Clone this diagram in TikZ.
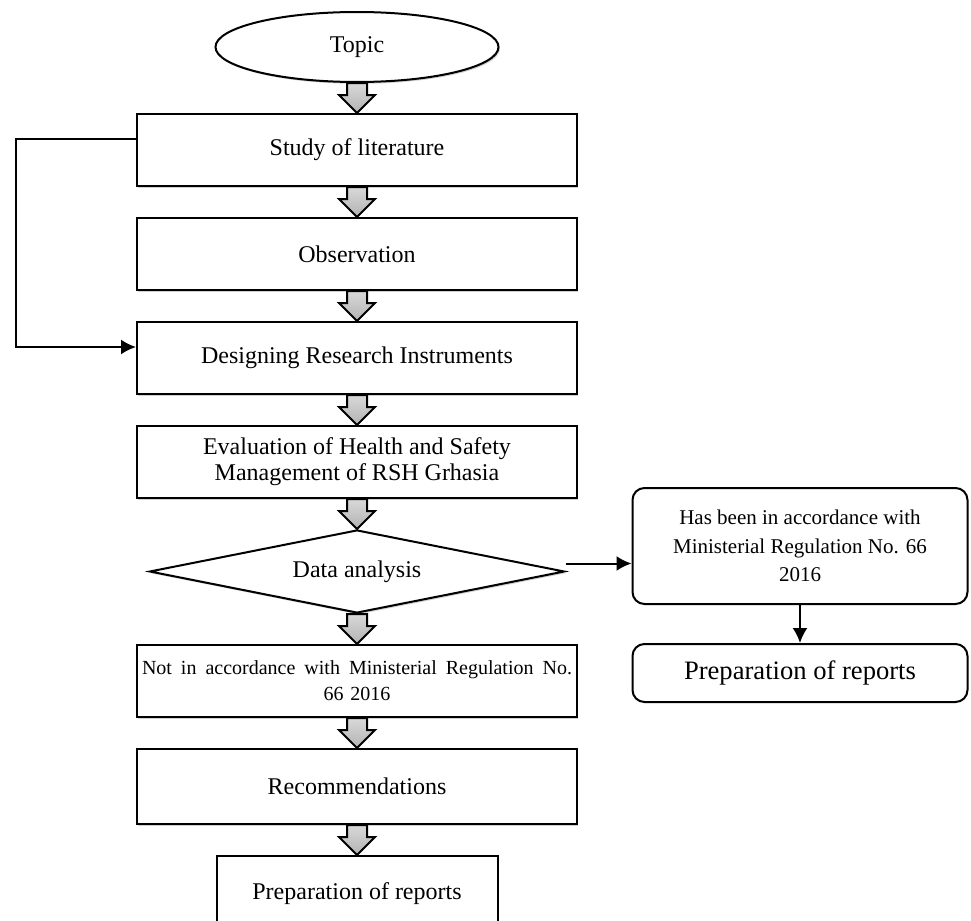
\documentclass[tikz,border=0pt]{standalone}
\usepackage{fontspec}
\setmainfont{Liberation Serif}
\usetikzlibrary{arrows.meta,calc,positioning,shapes.geometric,shadows}
\tikzset{>=Latex}
\tikzset{
  softshadow/.style={drop shadow={shadow xshift=0.7pt, shadow yshift=-0.9pt, opacity=0.3, fill=black!60}},
  box/.style={draw, line width=1pt, fill=white, minimum width=220pt, minimum height=36pt, inner sep=2pt, align=center, font=\fontsize{12}{13}\selectfont, softshadow},
  rbox/.style={draw, line width=1pt, rounded corners=6pt, fill=white, minimum width=167.5pt, inner sep=2pt, align=center},
  arrow/.style={-{Latex[length=7.5pt,width=7.5pt]}, line width=1pt},
  blockarr/.style={draw, line width=1pt, line join=miter, top color=gray!30, bottom color=gray!60},
}
\newcommand{\blockarrow}[2]{%
  \draw[blockarr] ($(#1.south)+(-5pt,0)$) -- ($(#2.north)+(-5pt,9pt)$) -- ($(#2.north)+(-9pt,9pt)$)
    -- (#2.north) -- ($(#2.north)+(9pt,9pt)$) -- ($(#2.north)+(5pt,9pt)$) -- ($(#1.south)+(5pt,0)$) -- cycle;}

\begin{document}
\begin{tikzpicture}[node distance=15pt]
\useasboundingbox (0,0) rectangle (485.5pt,-460.5pt);
\clip (0,0) rectangle (485.5pt,-460.5pt);

\node[draw, ellipse, line width=1pt, fill=white, minimum width=141.5pt, minimum height=35pt, inner sep=0pt, font=\fontsize{12}{13}\selectfont, softshadow] (topic) at (178.5pt,-23.5pt) {Topic};
\node[box, below=of topic] (study) {Study of literature};
\node[box, below=of study] (obs) {Observation};
\node[box, below=of obs] (design) {Designing Research Instruments};
\node[box, below=of design] (eval) {Evaluation of Health and Safety\\Management of RSH Grhasia};
\node[draw, diamond, line width=1pt, fill=white, aspect=5, minimum width=207.5pt, minimum height=41.5pt, inner sep=0pt, font=\fontsize{12}{13}\selectfont, softshadow, below=of eval] (dia) {Data analysis};
\node[box, below=of dia, text width=216pt, font=\fontsize{10}{13}\selectfont] (notin) {\leavevmode\hbox to 215pt{Not\hfill in\hfill accordance\hfill with\hfill Ministerial\hfill Regulation\hfill No.}\\66 2016};
\node[box, below=of notin, minimum height=37.5pt] (recom) {Recommendations};
\node[box, below=of recom, minimum width=140.5pt, minimum height=38pt] (prep) {Preparation of reports};

\node[rbox, minimum height=58pt, font=\fontsize{10.5}{14.15}\selectfont, right=33pt of dia, yshift=12.75pt] (has) {Has been in accordance with\\Ministerial Regulation No. 66\\2016};
\node[rbox, minimum height=29pt, font=\fontsize{13.3}{15}\selectfont, below=19pt of has] (prep2) {Preparation of reports};

\foreach \a/\b in {topic/study, study/obs, obs/design, design/eval, eval/dia, dia/notin, notin/recom, recom/prep}
  \blockarrow{\a}{\b};

\coordinate (dA) at ([yshift=4pt]dia.east);
\draw[arrow] (dA) -- (dA -| has.west);
\draw[arrow] (has) -- (prep2);

\coordinate (fbk) at (8pt,0);
\coordinate (fbA) at ([yshift=5.5pt]study.west);
\coordinate (fbB) at ([yshift=5.5pt]design.west);
\draw[arrow] (fbA) -- (fbA -| fbk) |- (fbB);
\end{tikzpicture}
\end{document}
